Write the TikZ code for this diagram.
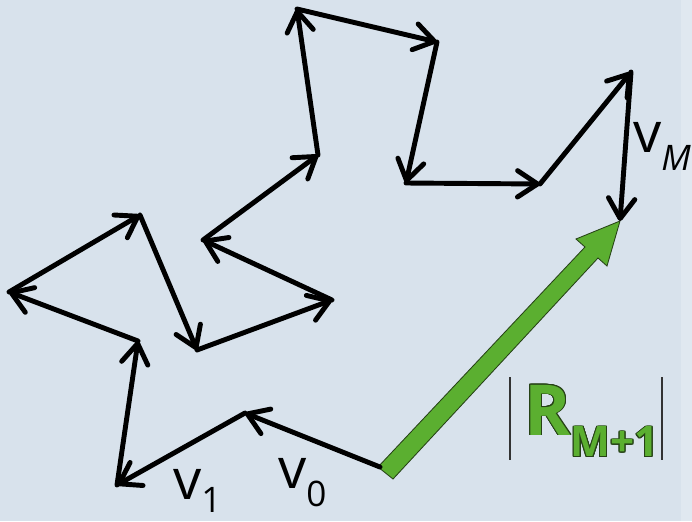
\documentclass[tikz,border=0pt]{standalone}
\usepackage{fontspec}
\setmainfont{Open Sans}
\usepackage{contour}
\usepackage{tikz}
\usetikzlibrary{arrows.meta}
\definecolor{paper}{RGB}{216,226,236}
\definecolor{paperedge}{RGB}{224,232,240}
\definecolor{sumgreen}{RGB}{91,175,48}
\definecolor{sumrim}{RGB}{38,66,22}
\contourlength{0.6pt}
\newcommand{\lowsub}[2]{\raisebox{#1}[\height][0pt]{\fontsize{25}{25}\selectfont #2}}

\begin{document}
\begin{tikzpicture}[
    x=0.025cm, y=-0.025cm,
    walk/.style={line width=3.5pt, line cap=round, line join=round,
                 -{Straight Barb[length=0.5cm, width=0.66cm, round]}},
    lbl/.style={inner sep=0pt, anchor=base west, font=\fontsize{40}{40}\selectfont},
    bar/.style={line width=1.1pt, draw=black!80}
]
\fill[paper] (0,0) rectangle (692,521);
\fill[paperedge] (681,0) rectangle (692,521);
\useasboundingbox (0,0) rectangle (692,521);

% steps of the walk
\coordinate (p0) at (380,467);
\coordinate (p1) at (245,413);
\coordinate (p2) at (117,485);
\coordinate (p3) at (138,341);
\coordinate (p4) at (9,292);
\coordinate (p5) at (140,215);
\coordinate (p6) at (197,350);
\coordinate (p7) at (332,300);
\coordinate (p8) at (203,240);
\coordinate (p9) at (318,155);
\coordinate (p10) at (297,9);
\coordinate (p11) at (437,42);
\coordinate (p12) at (406,183);
\coordinate (p13) at (540,184);
\coordinate (p14) at (631,72);
\coordinate (p15) at (620,221);

% resultant arrow outline
\coordinate (g1) at (378,467);
\coordinate (g2) at (393,479);
\coordinate (g3) at (598,258);
\coordinate (g4) at (607,266);
\coordinate (g5) at (620,221);
\coordinate (g6) at (576,239);
\coordinate (g7) at (585,247);
\filldraw[fill=sumgreen, draw=sumrim, line width=0.6pt, line join=miter]
  (g1) -- (g2) -- (g3) -- (g4) -- (g5) -- (g6) -- (g7) -- cycle;

\draw[walk] (p0) -- (p1);
\draw[walk] (p1) -- (p2);
\draw[walk] (p2) -- (p3);
\draw[walk] (p3) -- (p4);
\draw[walk] (p4) -- (p5);
\draw[walk] (p5) -- (p6);
\draw[walk] (p6) -- (p7);
\draw[walk] (p7) -- (p8);
\draw[walk] (p8) -- (p9);
\draw[walk] (p9) -- (p10);
\draw[walk] (p10) -- (p11);
\draw[walk] (p11) -- (p12);
\draw[walk] (p12) -- (p13);
\draw[walk] (p13) -- (p14);
\draw[walk] (p14) -- (p15);

\node[lbl] (vzero) at (278,488) {v\lowsub{-13pt}{0}};
\node[lbl] (vone) at (173,499) {v\lowsub{-9.5pt}{1}};
\node[lbl] (vM) at (633,152) {v\lowsub{-12.8pt}{\itshape M}};

\node[inner sep=0pt, anchor=base west, text=sumgreen, font=\bfseries] (rsum) at (524,435)
  {\fontsize{50}{50}\selectfont\contour{sumrim}{R}\raisebox{-15.6pt}{\fontsize{30}{30}\selectfont\contour{sumrim}{M+1}}};

\coordinate (barL1) at (510,377);
\coordinate (barL2) at (510,460);
\coordinate (barR1) at (662,377);
\coordinate (barR2) at (662,460);
\draw[bar] (barL1) -- (barL2);
\draw[bar] (barR1) -- (barR2);
\end{tikzpicture}
\end{document}
